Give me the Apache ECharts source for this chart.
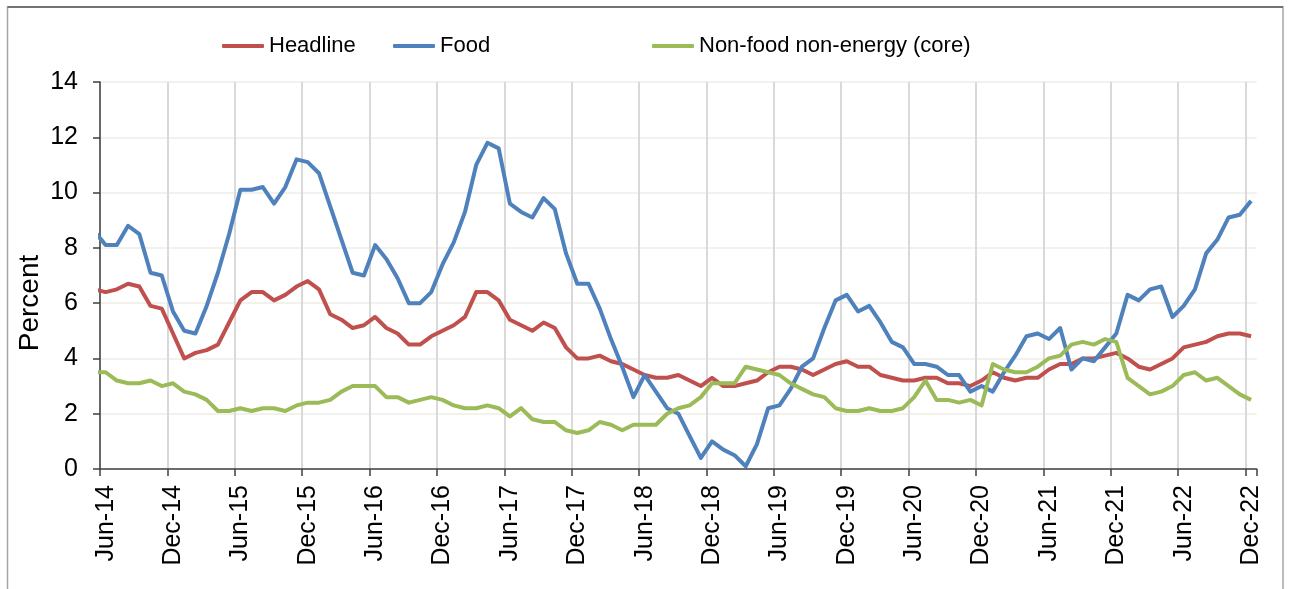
<!DOCTYPE html>
<html>
<head>
<meta charset="utf-8">
<script src="https://cdn.jsdelivr.net/npm/echarts@6/dist/echarts.min.js"></script>
<style>
  html, body { margin: 0; padding: 0; background: #fff; }
  #chart { width: 1292px; height: 589px; }
</style>
</head>
<body>
<div id="chart"></div>
<script>
// months shown on the axis: Jun-14 .. Dec-22 (first value below is May-14, clipped by the axis)
var monthNames = ["Jan", "Feb", "Mar", "Apr", "May", "Jun", "Jul", "Aug", "Sep", "Oct", "Nov", "Dec"];
var months = [];
for (var y = 14; y <= 22; y++) {
  for (var m = 0; m < 12; m++) {
    if (y === 14 && m < 4) continue;
    months.push(monthNames[m] + "-" + y);
  }
}
var axisMonths = months.slice(1);

var headline = [6.5,
  6.4, 6.5, 6.7, 6.6, 5.9, 5.8, 4.9, 4.0, 4.2, 4.3,
  4.5, 5.3, 6.1, 6.4, 6.4, 6.1, 6.3, 6.6, 6.8, 6.5,
  5.6, 5.4, 5.1, 5.2, 5.5, 5.1, 4.9, 4.5, 4.5, 4.8,
  5.0, 5.2, 5.5, 6.4, 6.4, 6.1, 5.4, 5.2, 5.0, 5.3,
  5.1, 4.4, 4.0, 4.0, 4.1, 3.9, 3.8, 3.6, 3.4, 3.3,
  3.3, 3.4, 3.2, 3.0, 3.3, 3.0, 3.0, 3.1, 3.2, 3.5,
  3.7, 3.7, 3.6, 3.4, 3.6, 3.8, 3.9, 3.7, 3.7, 3.4,
  3.3, 3.2, 3.2, 3.3, 3.3, 3.1, 3.1, 3.0, 3.2, 3.5,
  3.3, 3.2, 3.3, 3.3, 3.6, 3.8, 3.8, 4.0, 4.0, 4.1,
  4.2, 4.0, 3.7, 3.6, 3.8, 4.0, 4.4, 4.5, 4.6, 4.8,
  4.9, 4.9, 4.8];

var food = [8.6,
  8.1, 8.1, 8.8, 8.5, 7.1, 7.0, 5.7, 5.0, 4.9, 5.9,
  7.1, 8.5, 10.1, 10.1, 10.2, 9.6, 10.2, 11.2, 11.1, 10.7,
  9.5, 8.3, 7.1, 7.0, 8.1, 7.6, 6.9, 6.0, 6.0, 6.4,
  7.4, 8.2, 9.3, 11.0, 11.8, 11.6, 9.6, 9.3, 9.1, 9.8,
  9.4, 7.8, 6.7, 6.7, 5.8, 4.7, 3.7, 2.6, 3.4, 2.8,
  2.2, 2.0, 1.2, 0.4, 1.0, 0.7, 0.5, 0.1, 0.9, 2.2,
  2.3, 2.9, 3.7, 4.0, 5.1, 6.1, 6.3, 5.7, 5.9, 5.3,
  4.6, 4.4, 3.8, 3.8, 3.7, 3.4, 3.4, 2.8, 3.0, 2.8,
  3.5, 4.1, 4.8, 4.9, 4.7, 5.1, 3.6, 4.0, 3.9, 4.4,
  4.9, 6.3, 6.1, 6.5, 6.6, 5.5, 5.9, 6.5, 7.8, 8.3,
  9.1, 9.2, 9.7];

var core = [3.5,
  3.5, 3.2, 3.1, 3.1, 3.2, 3.0, 3.1, 2.8, 2.7, 2.5,
  2.1, 2.1, 2.2, 2.1, 2.2, 2.2, 2.1, 2.3, 2.4, 2.4,
  2.5, 2.8, 3.0, 3.0, 3.0, 2.6, 2.6, 2.4, 2.5, 2.6,
  2.5, 2.3, 2.2, 2.2, 2.3, 2.2, 1.9, 2.2, 1.8, 1.7,
  1.7, 1.4, 1.3, 1.4, 1.7, 1.6, 1.4, 1.6, 1.6, 1.6,
  2.0, 2.2, 2.3, 2.6, 3.1, 3.1, 3.1, 3.7, 3.6, 3.5,
  3.4, 3.1, 2.9, 2.7, 2.6, 2.2, 2.1, 2.1, 2.2, 2.1,
  2.1, 2.2, 2.6, 3.2, 2.5, 2.5, 2.4, 2.5, 2.3, 3.8,
  3.6, 3.5, 3.5, 3.7, 4.0, 4.1, 4.5, 4.6, 4.5, 4.7,
  4.6, 3.3, 3.0, 2.7, 2.8, 3.0, 3.4, 3.5, 3.2, 3.3,
  3.0, 2.7, 2.5];

var seriesNames = ["Headline", "Food", "Non-food non-energy (core)"];
var seriesColors = ["#c0504d", "#4f81bd", "#9bbb59"];
var yTicks = [0, 2, 4, 6, 8, 10, 12, 14];

var font = "'Liberation Sans', Arial, sans-serif";
var myChart = echarts.init(document.getElementById("chart"));

// each month sits in the middle of its band: x = index + 0.5
function toPoints(arr) {
  return arr.map(function (v, i) { return [i - 0.5, v]; });
}

function legendAt(name, left) {
  return {
    data: [name],
    left: left,
    top: 30,
    icon: "roundRect",
    itemWidth: 42,
    itemHeight: 4,
    textStyle: { color: "#000", fontSize: 22, fontFamily: font }
  };
}

var option = {
  backgroundColor: "#fff",
  animation: false,
  legend: [
    legendAt(seriesNames[0], 217),
    legendAt(seriesNames[1], 388),
    legendAt(seriesNames[2], 647)
  ],
  grid: { left: 100, right: 35.3, top: 82, bottom: 120, containLabel: false },
  xAxis: [
    {
      type: "category",
      data: axisMonths,
      boundaryGap: true,
      axisLine: { lineStyle: { color: "#404040", width: 1.5 } },
      axisTick: { show: true, interval: 5, length: 7, lineStyle: { color: "#404040", width: 1.5 } },
      axisLabel: {
        interval: 5,
        rotate: 90,
        margin: 16,
        color: "#000",
        fontSize: 25,
        fontFamily: font
      },
      splitLine: {
        show: true,
        interval: 5,
        showMaxLine: false,
        lineStyle: { color: "#d9d9d9", width: 2 }
      }
    },
    {
      type: "value",
      min: 0,
      max: axisMonths.length,
      show: false
    }
  ],
  yAxis: {
    type: "value",
    min: yTicks[0],
    max: yTicks[yTicks.length - 1],
    interval: 2,
    axisLine: { show: true, lineStyle: { color: "#404040", width: 1.5 } },
    axisTick: { show: true, length: 7, lineStyle: { color: "#404040", width: 1.5 } },
    axisLabel: { margin: 22, color: "#000", fontSize: 25, fontFamily: font },
    splitLine: { show: true, lineStyle: { color: "#eeece4", width: 1.5 } }
  },
  graphic: [
    {
      type: "text",
      x: 30,
      y: 303,
      rotation: Math.PI / 2,
      style: {
        text: "Percent",
        fill: "#000",
        font: "28px " + font,
        align: "center",
        verticalAlign: "middle"
      }
    },
    {
      type: "polyline",
      shape: { points: [[7.5, 600], [7.5, 7], [1283, 7], [1283, 600]] },
      style: { stroke: "#a6a6a6", lineWidth: 1.5, fill: null }
    },
    {
      type: "line",
      shape: { x1: 7.5, y1: 7, x2: 1283, y2: 7 },
      style: { stroke: "#5a5a5a", lineWidth: 1.5 }
    }
  ],
  series: [headline, food, core].map(function (arr, k) {
    return {
      name: seriesNames[k],
      type: "line",
      xAxisIndex: 1,
      data: toPoints(arr),
      symbol: "none",
      clip: true,
      color: seriesColors[k],
      lineStyle: { width: 4, color: seriesColors[k], join: "round" }
    };
  })
};

myChart.setOption(option);
</script>
</body>
</html>
